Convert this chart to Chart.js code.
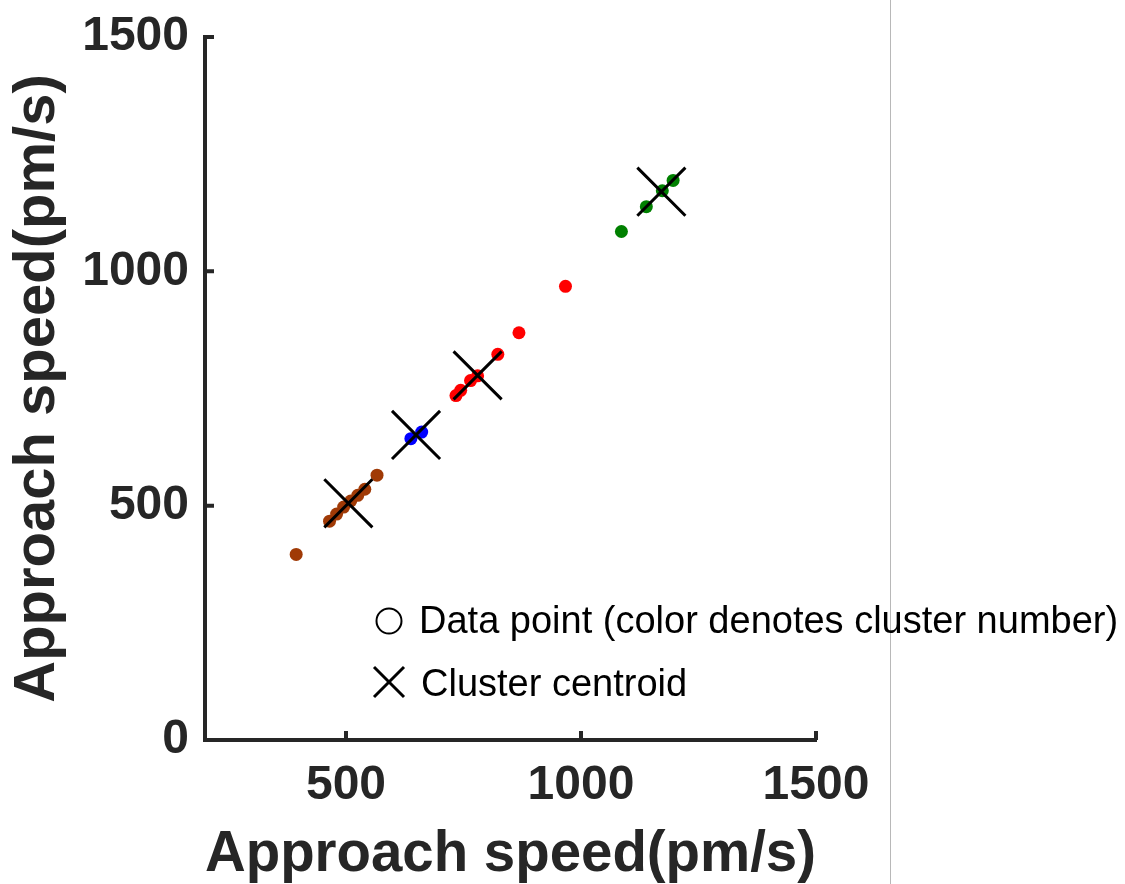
<!DOCTYPE html>
<html>
<head>
<meta charset="utf-8">
<script src="https://cdn.jsdelivr.net/npm/chart.js@4/dist/chart.umd.min.js"></script>
<style>
  html, body { margin: 0; padding: 0; background: #fff; }
  #wrap { position: relative; width: 1125px; height: 884px; overflow: hidden; }
  #chart { position: absolute; left: 0; top: 0; }
  .edge { position: absolute; left: 890px; top: 0; width: 1px; height: 884px; background: #b8b8b8; }
  .legend-row {
    position: absolute; left: 0; font-family: "Liberation Sans", Arial, sans-serif;
    font-size: 38px; line-height: 38px; color: #000; white-space: nowrap;
  }
  .legend-row svg { position: absolute; }
</style>
</head>
<body>
<div id="wrap">
  <canvas id="chart" width="1125" height="884"></canvas>
  <div class="edge"></div>
  <div class="legend-row" style="top:0;left:0">
    <svg style="left:374px;top:606px" width="30" height="30">
      <circle cx="15" cy="15" r="12.5" fill="none" stroke="#000" stroke-width="2"/>
    </svg>
    <span style="position:absolute;left:419px;top:601px">Data point (color denotes cluster number)</span>
    <svg style="left:372px;top:665px" width="34" height="34">
      <line x1="2" y1="2" x2="32" y2="32" stroke="#000" stroke-width="3"/>
      <line x1="32" y1="2" x2="2" y2="32" stroke="#000" stroke-width="3"/>
    </svg>
    <span style="position:absolute;left:421px;top:664px">Cluster centroid</span>
  </div>
</div>
<script>
// approach speed (pm/s), x and y per cluster
const brownX = [394, 465, 480, 495, 510, 525, 540, 566];
const brownY = [396, 467, 482, 497, 510, 522, 535, 565];
const blueX = [638, 661];
const blueY = [643, 657];
const redX = [734, 744, 765, 780, 823, 868, 967];
const redY = [735, 746, 767, 777, 823, 869, 968];
const greenX = [1086, 1139, 1173, 1196];
const greenY = [1085, 1138, 1172, 1194];
const centroidX = [505, 649, 780, 1171];
const centroidY = [505, 651, 778, 1170];

const xTicks = [500, 1000, 1500];
const yTicks = [0, 500, 1000, 1500];
const axisTitle = 'Approach speed(pm/s)';

const AXIS = '#262626';
const FONT = '"Liberation Sans", Arial, sans-serif';
const pts = (xs, ys) => xs.map((x, i) => ({ x, y: ys[i] }));

const cluster = (data, color) => ({
  data,
  backgroundColor: color,
  borderColor: color,
  borderWidth: 0,
  pointRadius: 6.5,
  pointHoverRadius: 6.5,
  order: 1,
});

// MATLAB-style ticks that point into the plot
const innerTicks = {
  id: 'innerTicks',
  afterDraw(chart) {
    const { ctx, chartArea: a, scales: { x, y } } = chart;
    const len = 9;
    ctx.save();
    ctx.strokeStyle = AXIS;
    ctx.lineWidth = 4;
    ctx.beginPath();
    for (const t of x.ticks) {
      const px = x.getPixelForValue(t.value);
      ctx.moveTo(px, a.bottom);
      ctx.lineTo(px, a.bottom - len);
    }
    for (const t of y.ticks) {
      const py = y.getPixelForValue(t.value);
      ctx.moveTo(a.left, py);
      ctx.lineTo(a.left + len, py);
    }
    ctx.stroke();
    ctx.restore();
  },
};

new Chart(document.getElementById('chart').getContext('2d'), {
  type: 'scatter',
  data: {
    datasets: [
      {
        data: pts(centroidX, centroidY),
        pointStyle: 'crossRot',
        pointRadius: 34,
        pointHoverRadius: 34,
        borderColor: '#000',
        borderWidth: 3,
        pointBorderWidth: 3,
        backgroundColor: '#000',
        order: 0,
      },
      cluster(pts(brownX, brownY), '#a03a06'),
      cluster(pts(blueX, blueY), '#0000ff'),
      cluster(pts(redX, redY), '#ff0000'),
      cluster(pts(greenX, greenY), '#008000'),
    ],
  },
  options: {
    responsive: false,
    animation: false,
    events: [],
    layout: { padding: { top: 30, right: 309, left: 0, bottom: 0 } },
    plugins: { legend: { display: false }, tooltip: { enabled: false } },
    scales: {
      x: {
        type: 'linear',
        min: 200,
        max: 1500,
        afterBuildTicks: (s) => { s.ticks = xTicks.map((v) => ({ value: v })); },
        afterFit: (s) => { s.height = 144; s.paddingLeft = 0; s.paddingRight = 0; },
        grid: { display: true, drawOnChartArea: false, drawTicks: false },
        border: { display: true, color: AXIS, width: 4 },
        ticks: {
          padding: 17,
          color: AXIS,
          callback: (v) => String(v),
          font: { family: FONT, size: 48, weight: 'bold' },
        },
        title: {
          display: true,
          text: axisTitle,
          color: AXIS,
          padding: { top: 0, bottom: 0 },
          font: { family: FONT, size: 58, weight: 'bold', lineHeight: 1 },
        },
      },
      y: {
        type: 'linear',
        min: 0,
        max: 1500,
        afterBuildTicks: (s) => { s.ticks = yTicks.map((v) => ({ value: v })); },
        afterFit: (s) => { s.width = 205; s.paddingTop = 0; s.paddingBottom = 0; },
        grid: { display: true, drawOnChartArea: false, drawTicks: false },
        border: { display: true, color: AXIS, width: 4 },
        ticks: {
          padding: 16,
          color: AXIS,
          callback: (v) => String(v),
          font: { family: FONT, size: 48, weight: 'bold' },
        },
        title: {
          display: true,
          text: axisTitle,
          color: AXIS,
          padding: { top: 9, bottom: 0 },
          font: { family: FONT, size: 58, weight: 'bold', lineHeight: 1 },
        },
      },
    },
  },
  plugins: [innerTicks],
});
</script>
</body>
</html>
